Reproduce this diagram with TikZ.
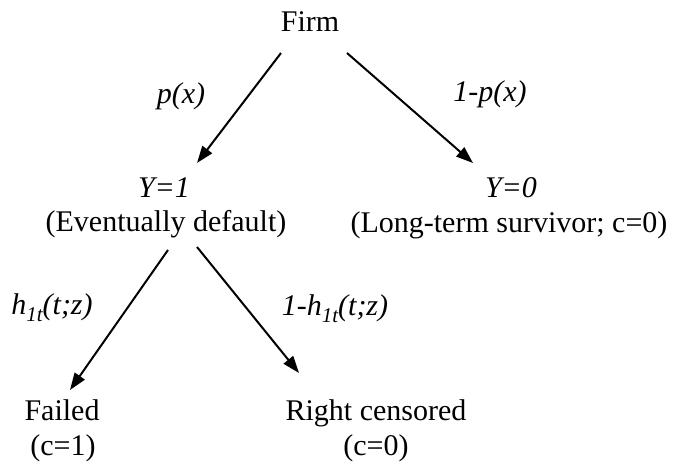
\documentclass[tikz,border=0pt]{standalone}
\usepackage{fontspec}
\setmainfont{Liberation Serif}
\usetikzlibrary{arrows.meta}
\newcommand{\subonet}{\raisebox{-0.22em}{\fontsize{21}{21}\selectfont 1t}}
\begin{document}
\begin{tikzpicture}[x=1pt,y=1pt,
  lbl/.style={anchor=base,inner sep=0pt,font=\fontsize{30}{34}\selectfont},
  arr/.style={line width=2pt,-{Triangle[length=17pt,width=12pt]}}]
\useasboundingbox (0,0) rectangle (673,466);
\node[lbl] (firm) at (310,434) {Firm};
\node[lbl] (px) at (181,362) {\itshape p(x)};
\node[lbl] (qx) at (490,364) {\itshape 1-p(x)};
\node[lbl] (y1) at (164,268) {\itshape Y=1};
\node[lbl] (ed) at (166,234) {(Eventually default)};
\node[lbl] (y0) at (511,268) {\itshape Y=0};
\node[lbl] (lt) at (509,233) {(Long-term survivor; c=0)};
\node[lbl] (h) at (52,151) {\itshape h\subonet(t;z)};
\node[lbl] (qh) at (335,150) {\itshape 1-h\subonet(t;z)};
\node[lbl] (failed) at (62,45) {Failed};
\node[lbl] (c1) at (63,10) {(c=1)};
\node[lbl] (rc) at (376,45) {Right censored};
\node[lbl] (c0) at (376,10) {(c=0)};
\draw[arr] ([shift={(-29,-21)}]firm.base) -- ([shift={(33,35)}]y1.base);
\draw[arr] ([shift={(37,-21)}]firm.base) -- ([shift={(-38,35)}]y0.base);
\draw[arr] ([shift={(2,-18)}]ed.base) -- ([shift={(8,31)}]failed.base);
\draw[arr] ([shift={(31,-15)}]ed.base) -- ([shift={(-77,48)}]rc.base);
\end{tikzpicture}
\end{document}
